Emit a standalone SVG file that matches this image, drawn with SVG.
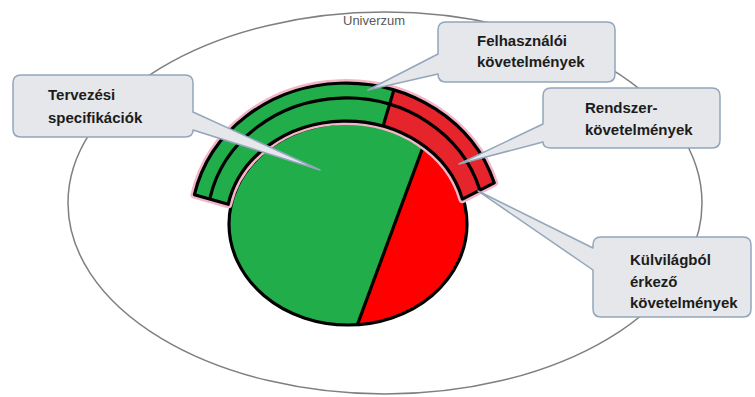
<svg xmlns="http://www.w3.org/2000/svg" width="755" height="397" viewBox="0 0 755 397">
  <defs>
    <clipPath id="pieClip">
      <ellipse cx="348" cy="224" rx="119" ry="101"/>
    </clipPath>
    <style>
      .universe { fill: none; stroke: #7f7f7f; stroke-width: 1.5; }
      .uni-label { font-family: "Liberation Sans", Arial, sans-serif; font-size: 13px; fill: #595959; }
      .green { fill: #22ad4b; }
      .red-pie { fill: #fe0000; }
      .red-band { fill: #e5252b; }
      .edge { fill: none; stroke: #000; stroke-width: 3.2; stroke-linejoin: round; }
      .halo { fill: none; stroke: #f4b6c6; stroke-width: 8; stroke-linejoin: round; }
      .callout { fill: #e5e7ea; stroke: #93a6bb; stroke-width: 1.5; stroke-linejoin: round; }
      .label { font-family: "Liberation Sans", Arial, sans-serif; font-size: 15px; font-weight: bold; fill: #1c1c1c; }
    </style>
  </defs>

  <!-- universe boundary -->
  <g id="universe">
    <ellipse class="universe" cx="385" cy="203" rx="317" ry="191"/>
    <text class="uni-label" x="343" y="25">Univerzum</text>
  </g>

  <!-- requirement pie: green share and red share -->
  <g id="pie">
    <ellipse class="green" cx="348" cy="224" rx="119" ry="101"/>
    <polygon class="red-pie" clip-path="url(#pieClip)" points="455,60 600,60 600,360 344,360"/>
    <line class="edge" clip-path="url(#pieClip)" x1="436" y1="112" x2="351" y2="342"/>
    <ellipse class="edge" cx="348" cy="224" rx="119" ry="101"/>
  </g>

  <!-- two-layer arc band above the pie -->
  <g id="band">
    <path class="halo" d="M194.4,194.7 A155,141 0 0 1 494.2,182.8 L462.4,199.1 A120,103 0 0 0 228.2,204.3 Z"/>
    <path class="green" d="M194.4,194.7 A155,141 0 0 1 393.9,89.9 L383.1,126.0 A120,103 0 0 0 228.2,204.3 Z"/>
    <path class="red-band" d="M393.9,89.9 A155,141 0 0 1 494.2,182.8 L462.4,199.1 A120,103 0 0 0 383.1,126.0 Z"/>
    <path class="edge" d="M210.0,197.8 A139,126 0 0 1 479.6,189.3"/>
    <line class="edge" x1="393.9" y1="89.9" x2="383.1" y2="126.0"/>
    <path class="edge" d="M194.4,194.7 A155,141 0 0 1 494.2,182.8 L462.4,199.1 A120,103 0 0 0 228.2,204.3 Z"/>
  </g>

  <!-- callouts -->
  <g id="tervezesi">
    <path class="callout" d="M21,75 H185 Q193,75 193,83 V112 L320,170 L193,130 Q193,137 185,137 H21 Q13,137 13,129 V83 Q13,75 21,75 Z"/>
    <text class="label" x="48" y="100">Tervezési</text>
    <text class="label" x="48" y="123">specifikációk</text>
  </g>

  <g id="felhasznaloi">
    <path class="callout" d="M446,22 H607 Q615,22 615,30 V74 Q615,82 607,82 H446 Q438,82 438,74 L368,90 L438,54 V30 Q438,22 446,22 Z"/>
    <text class="label" x="477" y="46">Felhasználói</text>
    <text class="label" x="477" y="67">követelmények</text>
  </g>

  <g id="rendszer">
    <path class="callout" d="M551,88 H712 Q720,88 720,96 V140 Q720,148 712,148 H551 Q543,148 543,142 L459,164 L543,124 V96 Q543,88 551,88 Z"/>
    <text class="label" x="585" y="113">Rendszer-</text>
    <text class="label" x="585" y="135">követelmények</text>
  </g>

  <g id="kulvilagbol">
    <path class="callout" d="M601,237 H743 Q751,237 751,245 V309 Q751,317 743,317 H601 Q593,317 593,309 V270 L478,191 L593,248 V245 Q593,237 601,237 Z"/>
    <text class="label" x="630" y="265">Külvilágból</text>
    <text class="label" x="630" y="287">érkező</text>
    <text class="label" x="630" y="308">követelmények</text>
  </g>
</svg>
